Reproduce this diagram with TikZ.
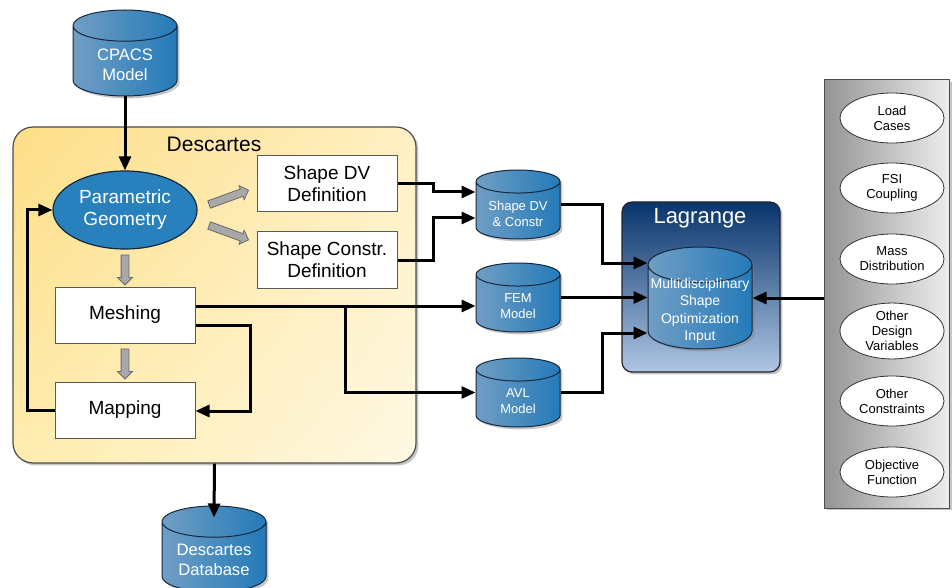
\documentclass[tikz,border=0pt]{standalone}
\usepackage{fontspec}
\setmainfont{Liberation Sans}
\usetikzlibrary{shapes.geometric,shapes.arrows,shadows,shadings,arrows.meta,calc}
\definecolor{cylleft}{RGB}{112,158,196}
\definecolor{cylright}{RGB}{36,122,184}
\definecolor{cylline}{RGB}{22,40,60}
\definecolor{geocol}{RGB}{40,128,188}
\definecolor{descTL}{RGB}{253,222,135}
\definecolor{descTR}{RGB}{255,240,195}
\definecolor{descBL}{RGB}{255,236,175}
\definecolor{descBR}{RGB}{255,249,228}
\definecolor{lagtop}{RGB}{8,52,108}
\definecolor{lagbot}{RGB}{175,198,228}
\definecolor{garrowfill}{RGB}{168,168,168}
\definecolor{garrowline}{RGB}{105,105,105}

\tikzset{
  conn/.style={line width=1.5pt,-{Triangle[length=7pt,width=6pt]}},
  shad/.style={drop shadow={opacity=0.45,shadow xshift=1.2pt,shadow yshift=-1.2pt}},
  dbcyl/.style={cylinder,shape border rotate=90,draw=cylline,line width=0.5pt,
    left color=cylleft,right color=cylright,inner sep=0pt,anchor=shape center,shad},
  bigcyl/.style={dbcyl,minimum width=52pt,minimum height=43pt,aspect=0.52},
  smallcyl/.style={dbcyl,minimum width=42pt,minimum height=34.5pt,aspect=0.48},
  dbtext/.style={text=white,align=center,inner sep=0pt},
  stepbox/.style={draw=gray!70!black,fill=white,line width=0.5pt,minimum width=70pt,
    minimum height=28pt,align=center,inner sep=0pt,font=\fontsize{9.5}{11}\selectfont},
  garrow/.style={single arrow,draw=garrowline,fill=garrowfill,line width=0.4pt,
    minimum width=7pt,single arrow head extend=1.75pt,inner xsep=0pt,inner ysep=1.75pt,
    minimum height=15pt},
  inputell/.style={ellipse,draw=black!80,fill=white,line width=0.4pt,minimum width=52pt,
    minimum height=25pt,inner sep=0pt,align=center,font=\fontsize{6.5}{7.5}\selectfont}
}

\begin{document}
\begin{tikzpicture}[x=0.5pt,y=-0.5pt]
\useasboundingbox (0,0) rectangle (952,588);

% containers
\node[shad,draw=gray!60!black,line width=0.6pt,rounded corners=10pt,minimum width=201.5pt,
  minimum height=168pt,upper left=descTL,upper right=descTR,lower left=descBL,
  lower right=descBR] (desc) at (214.5,295) {};
\node[font=\fontsize{10.5}{12}\selectfont] (desctitle) at (214,144) {Descartes};
\node[shad,draw=black!85,line width=0.6pt,rounded corners=5pt,minimum width=79pt,
  minimum height=85pt,top color=lagtop,bottom color=lagbot] (lag) at (701,287) {};
\node[text=white,font=\fontsize{11}{13}\selectfont] (lagtitle) at (700,218) {Lagrange};
\node[shad,draw=black!70,line width=0.5pt,minimum width=62.5pt,minimum height=214pt,
  left color=black!42,right color=black!7] (panel) at (887,294) {};

% databases
\node[bigcyl] (cpacs) at (125,53) {\hspace*{30pt}};
\node[dbtext,font=\fontsize{8.3}{10}\selectfont] (cpacstxt) at (125,65) {CPACS\\Model};
\node[bigcyl] (db) at (214,549) {\hspace*{30pt}};
\node[dbtext,font=\fontsize{8.3}{10}\selectfont] (dbtxt) at (214,560) {Descartes\\Database};
\node[smallcyl] (dvdb) at (518,204.5) {\hspace*{24pt}};
\node[dbtext,font=\fontsize{6.5}{8}\selectfont] (dvdbtxt) at (518,214) {Shape DV\\\& Constr};
\node[smallcyl] (fem) at (518,297.5) {\hspace*{24pt}};
\node[dbtext,font=\fontsize{6.5}{8}\selectfont] (femtxt) at (518,306) {FEM\\Model};
\node[smallcyl] (avl) at (518,392.5) {\hspace*{24pt}};
\node[dbtext,font=\fontsize{6.5}{8}\selectfont] (avltxt) at (518,401) {AVL\\Model};
\node[dbcyl,minimum width=52pt,minimum height=51pt,aspect=0.37] (mso) at (700,298)
  {\hspace*{48pt}};
\node[dbtext,font=\fontsize{7}{8.75}\selectfont] (msotxt) at (700,311)
  {Multidisciplinary\\Shape\\Optimization\\Input};

% descartes steps
\node[ellipse,draw=cylline,line width=0.6pt,fill=geocol,text=white,minimum width=72pt,
  minimum height=39pt,inner sep=0pt,align=center,font=\fontsize{9.5}{11}\selectfont]
  (pg) at (125,210) {Parametric\\Geometry};
\node[stepbox] (dvdef) at (327,184) {Shape DV\\Definition};
\node[stepbox] (cdef) at (327,260) {Shape Constr.\\Definition};
\node[stepbox] (mesh) at (125,315) {Meshing};
\node[stepbox] (map) at (125,410) {Mapping};

\node[garrow,rotate=-90] (ga1) at (125,268) {};
\node[garrow,rotate=-90] (ga2) at (125,362) {};
\node[garrow,rotate=20,minimum height=21pt] (ga3) at (227,198) {};
\node[garrow,rotate=-20,minimum height=21pt] (ga4) at (227,232) {};

% right inputs
\node[inputell] (load) at (892,118) {Load\\Cases};
\node[inputell] (fsi) at (892,188) {FSI\\Coupling};
\node[inputell] (mass) at (892,259) {Mass\\Distribution};
\node[inputell] (odv) at (892,331) {Other\\Design\\Variables};
\node[inputell] (ocon) at (892,401) {Other\\Constraints};
\node[inputell] (obj) at (892,472) {Objective\\Function};

% ports on the cylinder sides
\coordinate (dvin1) at ($(dvdb.shape center -| dvdb.west)+(0,-12.5)$);
\coordinate (dvin2) at ($(dvdb.shape center -| dvdb.west)+(0,13.5)$);
\coordinate (msoin1) at ($(mso.shape center -| mso.west)+(0,-35)$);
\coordinate (msoin3) at ($(mso.shape center -| mso.west)+(0,35)$);

% connectors
\draw[conn] (cpacs.south) -- (pg.north);
\draw[conn] (map.west) -- ++(-27,0) |- (pg.west);
\draw[conn] ([yshift=-5pt]mesh.east) -- ++(55,0) |- ([yshift=-0.5pt]map.east);
\draw[line width=1.5pt] ([yshift=4.5pt]mesh.east) coordinate (m1) -- (345,306) coordinate (split);
\draw[conn] (split) -- (m1 -| fem.west);
\draw[conn] (split) |- (avl.shape center -| avl.west);
\draw[conn] (dvdef.east) -- ++(36,0) |- (dvin1);
\draw[conn] (cdef.east) -- ++(36,0) |- (dvin2);
\draw[conn] (dvdb.shape center -| dvdb.east) -- ++(42,0) |- (msoin1);
\draw[conn] (fem.shape center -| fem.east) -- (fem.shape center -| mso.west);
\draw[conn] (avl.shape center -| avl.east) -- ++(42,0) |- (msoin3);
\draw[conn] (panel.west |- mso.shape center) -- (mso.shape center -| mso.east);
\draw[conn] (desc.south) -- ([yshift=-6pt]db.north);
\end{tikzpicture}
\end{document}
